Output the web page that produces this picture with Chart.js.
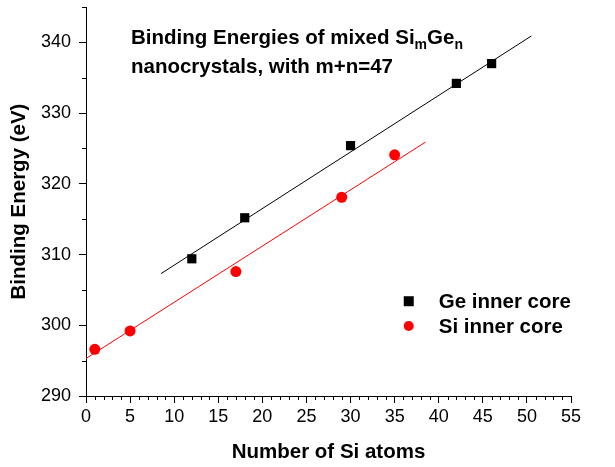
<!DOCTYPE html>
<html>
<head>
<meta charset="utf-8">
<script src="https://cdn.jsdelivr.net/npm/chart.js@4.4.1/dist/chart.umd.min.js"></script>
<style>
  html, body { margin: 0; padding: 0; background: #ffffff; }
  #wrap { width: 615px; height: 467px; position: relative; }
</style>
</head>
<body>
<div id="wrap"><canvas id="c" width="615" height="467"></canvas></div>
<script>
// ---- data ----
const geLabel = 'Ge inner core';
const geX = [12, 18, 30, 42, 46];
const geY = [309.4, 315.2, 325.4, 334.2, 337.0];

const siLabel = 'Si inner core';
const siX = [1, 5, 17, 29, 35];
const siY = [296.6, 299.2, 307.6, 318.1, 324.1];

// linear-fit lines (end points)
const geFitX = [8.5, 50.5];
const geFitY = [307.3, 340.9];
const siFitX = [0, 38.5];
const siFitY = [295.3, 325.9];

const xTicks = [0, 5, 10, 15, 20, 25, 30, 35, 40, 45, 50, 55];
const yTicks = [290, 300, 310, 320, 330, 340];
const xMinorTicks = Array.from({length: 56}, (_, i) => i).filter(v => v % 5 !== 0);
const yMinorTicks = [295, 305, 315, 325, 335, 345];

const xTitle = 'Number of Si atoms';
const yTitle = 'Binding Energy (eV)';
const titleLine1 = ['Binding Energies of mixed Si', 'm', 'Ge', 'n'];
const titleLine2 = 'nanocrystals, with m+n=47';

const FONT = '"Liberation Sans", Arial, Helvetica, sans-serif';

const pts = (xs, ys) => xs.map((x, i) => ({x: x, y: ys[i]}));

// minor ticks, inner title and legend
const decor = {
  id: 'decor',
  afterDraw(chart) {
    const ctx = chart.ctx;
    const xs = chart.scales.x, ys = chart.scales.y;
    const area = chart.chartArea;
    ctx.save();
    ctx.strokeStyle = '#000';
    ctx.lineWidth = 1;
    ctx.beginPath();
    xMinorTicks.forEach(v => {
      const px = Math.round(xs.getPixelForValue(v)) + 0.5;
      ctx.moveTo(px, area.bottom);
      ctx.lineTo(px, area.bottom + 4);
    });
    yMinorTicks.forEach(v => {
      const py = Math.round(ys.getPixelForValue(v)) + 0.5;
      ctx.moveTo(area.left, py);
      ctx.lineTo(area.left - 4, py);
    });
    ctx.stroke();

    // inner title
    ctx.fillStyle = '#000';
    ctx.textBaseline = 'alphabetic';
    ctx.textAlign = 'left';
    let x = xs.getPixelForValue(5.1);
    const b1 = ys.getPixelForValue(339.8);
    const big = 'bold 20.5px ' + FONT, small = 'bold 14px ' + FONT;
    titleLine1.forEach((t, i) => {
      const sub = i % 2 === 1;
      ctx.font = sub ? small : big;
      ctx.fillText(t, x, sub ? b1 + 5 : b1);
      x += ctx.measureText(t).width;
    });
    ctx.font = big;
    ctx.fillText(titleLine2, xs.getPixelForValue(5.1), ys.getPixelForValue(335.7));

    // legend
    const items = [chart.data.datasets[2], chart.data.datasets[3]];
    const lx = xs.getPixelForValue(36.6);
    const tx = xs.getPixelForValue(40.0);
    const lys = [ys.getPixelForValue(303.4), ys.getPixelForValue(299.9)];
    ctx.font = 'bold 20.5px ' + FONT;
    ctx.textBaseline = 'middle';
    items.forEach((ds, i) => {
      const y = lys[i];
      ctx.fillStyle = ds.backgroundColor;
      if (ds.pointStyle === 'rect') {
        ctx.fillRect(lx - 5, y - 5, 10, 10);
      } else {
        ctx.beginPath();
        ctx.arc(lx, y, 5, 0, Math.PI * 2);
        ctx.fill();
      }
      ctx.fillStyle = '#000';
      ctx.fillText(ds.label, tx, y + 1);
    });
    ctx.restore();
  }
};

new Chart(document.getElementById('c'), {
  type: 'scatter',
  data: {
    datasets: [
      { label: 'Ge fit', data: pts(geFitX, geFitY), showLine: true, borderColor: '#000000',
        borderWidth: 1, pointRadius: 0, fill: false },
      { label: 'Si fit', data: pts(siFitX, siFitY), showLine: true, borderColor: '#ff0000',
        borderWidth: 1, pointRadius: 0, fill: false },
      { label: geLabel, data: pts(geX, geY), pointStyle: 'rect', pointRadius: 6.5,
        backgroundColor: '#000000', borderColor: '#000000', borderWidth: 0 },
      { label: siLabel, data: pts(siX, siY), pointStyle: 'circle', pointRadius: 5.5,
        backgroundColor: '#ff0000', borderColor: '#ff0000', borderWidth: 0 }
    ]
  },
  options: {
    responsive: false,
    animation: false,
    devicePixelRatio: 1,
    layout: { padding: { top: 7, right: 44, left: 0, bottom: 0 } },
    plugins: { legend: { display: false }, tooltip: { enabled: false }, title: { display: false } },
    scales: {
      x: {
        type: 'linear', min: 0, max: 55,
        afterBuildTicks: s => { s.ticks = xTicks.map(v => ({value: v})); },
        afterFit: s => { s.height = 71; s.paddingLeft = 0; s.paddingRight = 0; },
        ticks: { color: '#000', font: { family: FONT, size: 18 }, padding: 3, maxRotation: 0, autoSkip: false },
        grid: { display: true, drawOnChartArea: false, drawTicks: true, tickLength: 7, color: '#000' },
        border: { display: true, color: '#000', width: 1 },
        title: { display: true, text: xTitle, color: '#000',
                 font: { family: FONT, size: 20.5, weight: 'bold' }, padding: { top: 0, bottom: 2 } }
      },
      y: {
        type: 'linear', min: 290, max: 345,
        afterBuildTicks: s => { s.ticks = yTicks.map(v => ({value: v})); },
        afterFit: s => { s.width = 86; s.paddingTop = 0; s.paddingBottom = 0; },
        ticks: { color: '#000', font: { family: FONT, size: 18 }, padding: 8, autoSkip: false },
        grid: { display: true, drawOnChartArea: false, drawTicks: true, tickLength: 7, color: '#000' },
        border: { display: true, color: '#000', width: 1 },
        title: { display: true, text: yTitle, color: '#000',
                 font: { family: FONT, size: 20.5, weight: 'bold' }, padding: { top: 7, bottom: 0 } }
      }
    }
  },
  plugins: [decor]
});
</script>
</body>
</html>
